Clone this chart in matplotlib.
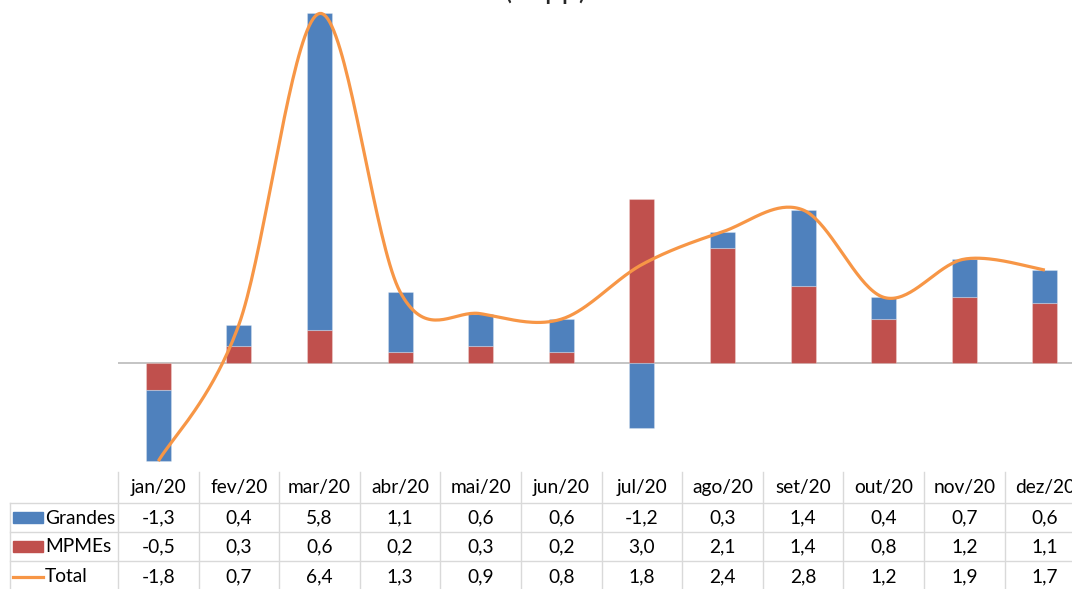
import matplotlib.pyplot as plt
import matplotlib.transforms as mtransforms
import numpy as np

# Data (contribution in p.p.)
months = ['jan/20', 'fev/20', 'mar/20', 'abr/20', 'mai/20', 'jun/20',
          'jul/20', 'ago/20', 'set/20', 'out/20', 'nov/20', 'dez/20']
grandes = [-1.3, 0.4, 5.8, 1.1, 0.6, 0.6, -1.2, 0.3, 1.4, 0.4, 0.7, 0.6]
mpmes = [-0.5, 0.3, 0.6, 0.2, 0.3, 0.2, 3.0, 2.1, 1.4, 0.8, 1.2, 1.1]
total = [-1.8, 0.7, 6.4, 1.3, 0.9, 0.8, 1.8, 2.4, 2.8, 1.2, 1.9, 1.7]

fmt = lambda v: f'{v:.1f}'.replace('.', ',')

BLUE = '#4F81BD'
RED = '#C0504D'
ORANGE = '#F79646'
GRID = '#D9D9D9'
FONT = 'Lato'

W, H = 1072, 589
fig = plt.figure(figsize=(W / 100, H / 100), dpi=100)

# pixel layout of the plot area
px_left, px_step = 118, 80.6
px_bottom, px_top = 472, 8
ax = fig.add_axes([px_left / W, (H - px_bottom) / H,
                   12 * px_step / W, (px_bottom - px_top) / H])
ax.set_xlim(-0.5, 11.5)
ax.set_ylim(-2, 6.5)
ax.axis('off')

x = np.arange(len(months))
g = np.array(grandes)
m = np.array(mpmes)
width = 0.31
edge = (1, 1, 1, 0.25)

ax.axhline(0, color='#BFBFBF', lw=1.3, zorder=1)
ax.bar(x, m, width, color=RED, edgecolor=edge, lw=0.8, zorder=2)
g_bottom = np.where(g >= 0, np.maximum(m, 0), np.minimum(m, 0))
ax.bar(x, g, width, bottom=g_bottom, color=BLUE, edgecolor=edge, lw=0.8, zorder=2)

# smoothed line like Excel (Catmull-Rom through the data points)
t = np.array(total)
pts_x, pts_y = [], []
for i in range(len(t) - 1):
    p0 = t[i - 1] if i > 0 else t[i]
    p3 = t[i + 2] if i + 2 < len(t) else t[i + 1]
    p1, p2 = t[i], t[i + 1]
    x0 = x[i - 1] if i > 0 else x[i]
    x3 = x[i + 2] if i + 2 < len(t) else x[i + 1]
    x1, x2 = x[i], x[i + 1]
    c1y = p1 + (p2 - p0) / 6
    c2y = p2 - (p3 - p1) / 6
    c1x = x1 + (x2 - x0) / 6
    c2x = x2 - (x3 - x1) / 6
    s = np.linspace(0, 1, 40)
    bx = (1 - s) ** 3 * x1 + 3 * (1 - s) ** 2 * s * c1x + 3 * (1 - s) * s ** 2 * c2x + s ** 3 * x2
    by = (1 - s) ** 3 * p1 + 3 * (1 - s) ** 2 * s * c1y + 3 * (1 - s) * s ** 2 * c2y + s ** 3 * p2
    pts_x.extend(bx)
    pts_y.extend(by)
ax.plot(pts_x, pts_y, color=ORANGE, lw=2.3, solid_capstyle='butt', zorder=3, clip_on=False)

# title (cropped at the top of the image)
fig.text(545 / W, 1.0, '(em p.p.)', ha='center', va='baseline',
         fontsize=15, fontweight='bold', family=FONT, color='#262626')

# data table drawn in pixel coordinates below the plot
tab = fig.add_axes([0, 0, 1, 1], zorder=-1)
tab.set_xlim(0, W)
tab.set_ylim(H, 0)
tab.axis('off')
trans = mtransforms.blended_transform_factory(ax.transData, tab.transData)

row_lines = [503, 532, 561]
for yl in row_lines:
    tab.plot([10, W], [yl, yl], color=GRID, lw=1)
tab.plot([10, 10], [503, H], color=GRID, lw=1)
for k in range(len(months) + 1):
    tab.plot([k - 0.5, k - 0.5], [472, H], color=GRID, lw=1, transform=trans)

ts = 13.8
header_y, row_y = 488, [518, 547, 577]
for i, lab in enumerate(months):
    tab.text(i, header_y, lab, ha='center', va='center', fontsize=ts,
             family=FONT, color='#000000', transform=trans)
    for vals, ry in zip([grandes, mpmes, total], row_y):
        tab.text(i, ry, fmt(vals[i]), ha='center', va='center', fontsize=ts,
                 family=FONT, color='#000000', transform=trans)

names = ['Grandes', 'MPMEs', 'Total']
tab.add_patch(plt.Rectangle((13, 512), 30, 11, color=BLUE))
tab.add_patch(plt.Rectangle((13, 541), 30, 11, color=RED))
tab.plot([13, 43], [577, 577], color=ORANGE, lw=2.3)
for name, ry in zip(names, row_y):
    tab.text(45, ry, name, ha='left', va='center', fontsize=ts,
             family=FONT, color='#000000')

fig.savefig('out.png', dpi=100)
